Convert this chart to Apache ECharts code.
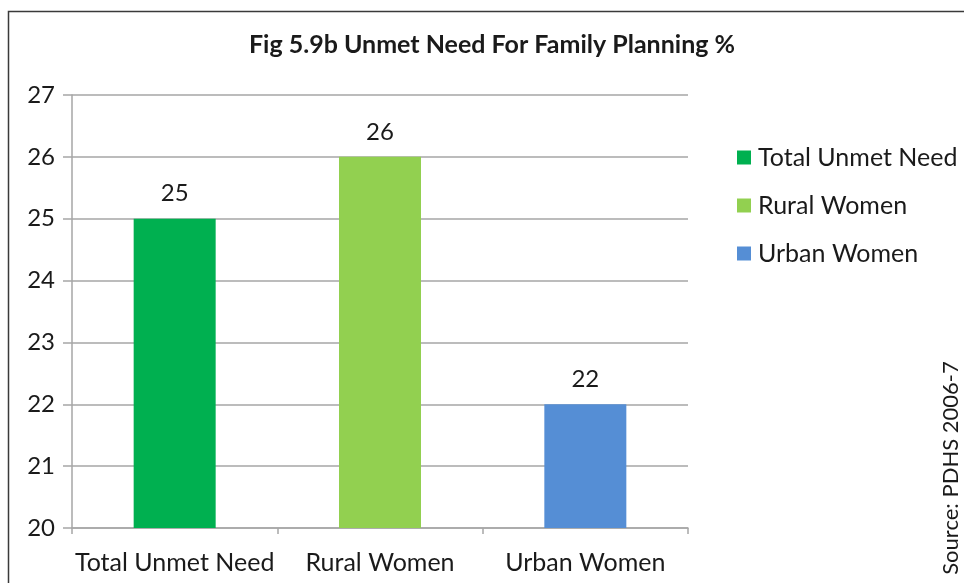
<!DOCTYPE html>
<html>
<head>
<meta charset="utf-8">
<script src="https://cdn.jsdelivr.net/npm/echarts@6/dist/echarts.min.js"></script>
<style>
  html, body { margin: 0; padding: 0; background: #fff; }
  #chart { width: 964px; height: 583px; }
</style>
</head>
<body>
<div id="chart"></div>
<script>
// data
var categories = ['Total Unmet Need', 'Rural Women', 'Urban Women'];
var seriesNames = ['Total Unmet Need', 'Rural Women', 'Urban Women'];
var values = [25, 26, 22];
var colors = ['#00b050', '#92d050', '#558ed5'];
var yTicks = [20, 21, 22, 23, 24, 25, 26, 27];

var font = 'Lato, "Open Sans", sans-serif';

var chart = echarts.init(document.getElementById('chart'));

// one series per category so each gets its own legend entry, stacked so the bar stays centred
var series = seriesNames.map(function (name, i) {
  return {
    name: name,
    type: 'bar',
    stack: 'all',
    barWidth: 82,
    data: categories.map(function (c, j) { return j === i ? values[i] : null; }),
    itemStyle: { color: colors[i] },
    label: {
      show: true,
      position: 'top',
      distance: 13,
      color: '#1a1a1a',
      fontFamily: font,
      fontSize: 24
    }
  };
});

chart.setOption({
  animation: false,
  backgroundColor: '#fff',
  grid: { left: 72, right: 276, top: 95, bottom: 55 },
  legend: {
    orient: 'vertical',
    left: 732,
    top: 140,
    itemWidth: 14,
    itemHeight: 14,
    itemGap: 23,
    icon: 'rect',
    textStyle: { fontFamily: font, fontSize: 25, lineHeight: 25, color: '#1a1a1a', padding: [0, 0, 0, 2] },
    data: seriesNames
  },
  xAxis: {
    type: 'category',
    data: categories,
    axisLine: { lineStyle: { color: '#a6a6a6', width: 1.5 } },
    axisTick: { show: true, length: 6, lineStyle: { color: '#a6a6a6', width: 1.5 } },
    axisLabel: { interval: 0, fontFamily: font, fontSize: 25, color: '#1a1a1a', margin: 22 }
  },
  yAxis: {
    type: 'value',
    min: yTicks[0],
    max: yTicks[yTicks.length - 1],
    interval: 1,
    axisLine: { show: true, lineStyle: { color: '#a6a6a6', width: 1.5 } },
    axisTick: { show: true, length: 9, lineStyle: { color: '#a6a6a6', width: 1.5 } },
    splitLine: { lineStyle: { color: '#a6a6a6', width: 1.5 } },
    axisLabel: { fontFamily: font, fontSize: 24, color: '#1a1a1a', margin: 17 }
  },
  series: series,
  graphic: [
    {
      type: 'rect',
      shape: { x: 8.5, y: 11.5, width: 1000, height: 1000 },
      style: { fill: null, stroke: '#3a3a3a', lineWidth: 1.5 },
      silent: true
    },
    {
      type: 'text',
      x: 492,
      y: 45,
      style: {
        text: 'Fig 5.9b Unmet Need For Family Planning %',
        fontFamily: font,
        fontWeight: 'bold',
        fontSize: 25,
        fill: '#1a1a1a',
        textAlign: 'center',
        textVerticalAlign: 'middle'
      }
    },
    {
      type: 'text',
      x: 951,
      y: 468,
      rotation: Math.PI / 2,
      style: {
        text: 'Source: PDHS 2006-7',
        fontFamily: font,
        fontSize: 22,
        fill: '#1a1a1a',
        textAlign: 'center',
        textVerticalAlign: 'middle'
      }
    }
  ]
});
</script>
</body>
</html>
